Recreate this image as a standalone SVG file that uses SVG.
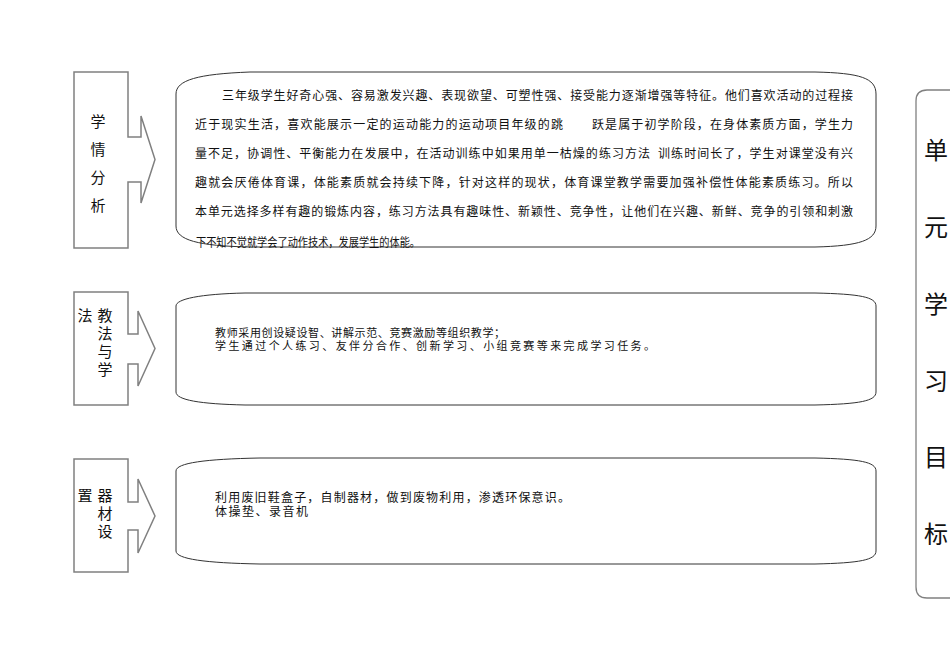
<svg xmlns="http://www.w3.org/2000/svg" width="950" height="672" viewBox="0 0 950 672">
<style>
.bg{fill:#fff}
.callout{fill:#fff;stroke:#808080;stroke-width:1.5;stroke-linejoin:miter}
.panel{fill:#fff;stroke:#333;stroke-width:1}
.goal{fill:none;stroke:#808080;stroke-width:1.3}
text{font-family:"Noto Sans CJK SC","Noto Sans",sans-serif;fill:#111}
.lbl{font-size:15px;text-anchor:middle}
.body{font-size:12px}
.small{font-size:11px}
.goaltxt{font-size:24px;text-anchor:middle}
</style>
<rect class="bg" x="0" y="0" width="950" height="672"/>

<g id="label-xueqing">
<path class="callout" d="M74,72 L128,72 L128,137 L141,137 L141,116 L155,159.5 L141,203 L141,182 L128,182 L128,248 L74,248 Z"/>
<text class="lbl" x="98" y="127">学</text>
<text class="lbl" x="98" y="155">情</text>
<text class="lbl" x="98" y="183">分</text>
<text class="lbl" x="98" y="211">析</text>
</g>

<g id="panel-xueqing">
<path class="panel" d="M176,94 C176,80 198,74 250,72 L815,72 C860,73 876,78 876,94 L876,226 C876,240 860,246 815,247 L250,247 C198,246 176,240 176,226 Z"/>
<text class="body" x="222" y="100" textLength="631">三年级学生好奇心强、容易激发兴趣、表现欲望、可塑性强、接受能力逐渐增强等特征。他们喜欢活动的过程接</text>
<text class="body" x="195" y="129" textLength="368">近于现实生活，喜欢能展示一定的运动能力的运动项目年级的跳</text>
<text class="body" x="592" y="129" textLength="261">跃是属于初学阶段，在身体素质方面，学生力</text>
<text class="body" x="195" y="158" textLength="455">量不足，协调性、平衡能力在发展中，在活动训练中如果用单一枯燥的练习方法</text>
<text class="body" x="658" y="158" textLength="195">训练时间长了，学生对课堂没有兴</text>
<text class="body" x="195" y="187" textLength="658">趣就会厌倦体育课，体能素质就会持续下降，针对这样的现状，体育课堂教学需要加强补偿性体能素质练习。所以</text>
<text class="body" x="195" y="216" textLength="658">本单元选择多样有趣的锻炼内容，练习方法具有趣味性、新颖性、竞争性，让他们在兴趣、新鲜、竞争的引领和刺激</text>
<text class="body" x="196" y="246.5" textLength="224" lengthAdjust="spacingAndGlyphs">下不知不觉就学会了动作技术，发展学生的体能。</text>
</g>

<g id="label-jiaofa">
<path class="callout" d="M74,292 L128,292 L128,334 L138,334 L138,311 L155,348.5 L138,386 L138,364 L128,364 L128,405 L74,405 Z"/>
<text class="lbl" x="85" y="321">法</text>
<text class="lbl" x="105" y="321">教</text>
<text class="lbl" x="105" y="339">法</text>
<text class="lbl" x="105" y="357">与</text>
<text class="lbl" x="105" y="375">学</text>
</g>

<g id="panel-jiaofa">
<path class="panel" d="M176,306 C176,299 200,294 245,293 L815,293 C860,294 876,297 876,306 L876,392 C876,401 860,404 815,405 L245,405 C200,404 176,400 176,392 Z"/>
<text class="small" x="215" y="337" textLength="290">教师采用创设疑设智、讲解示范、竞赛激励等组织教学；</text>
<text class="small" x="215" y="349.5" textLength="440">学生通过个人练习、友伴分合作、创新学习、小组竞赛等来完成学习任务。</text>
</g>

<g id="label-qicai">
<path class="callout" d="M74,459 L128,459 L128,502 L138,502 L138,479 L155,516 L138,553 L138,530 L128,530 L128,572 L74,572 Z"/>
<text class="lbl" x="85" y="501">置</text>
<text class="lbl" x="105" y="501">器</text>
<text class="lbl" x="105" y="519">材</text>
<text class="lbl" x="105" y="537">设</text>
</g>

<g id="panel-qicai">
<path class="panel" d="M176,471 C176,463 205,459 260,458 L815,458 C860,459 876,462 876,471 L876,551 C876,560 860,563 815,564 L260,564 C205,563 176,559 176,551 Z"/>
<text class="body" x="215" y="502" textLength="355">利用废旧鞋盒子，自制器材，做到废物利用，渗透环保意识。</text>
<text class="body" x="215" y="515.5" textLength="93">体操垫、录音机</text>
</g>

<g id="goal">
<path class="goal" d="M955,90 L927,90 Q916,90 916,101 L916,587 Q916,598 927,598 L955,598"/>
<text class="goaltxt" x="936" y="159">单</text>
<text class="goaltxt" x="936" y="236">元</text>
<text class="goaltxt" x="936" y="313">学</text>
<text class="goaltxt" x="936" y="390">习</text>
<text class="goaltxt" x="936" y="466">目</text>
<text class="goaltxt" x="936" y="543">标</text>
</g>

<g id="connectors"></g>
</svg>
